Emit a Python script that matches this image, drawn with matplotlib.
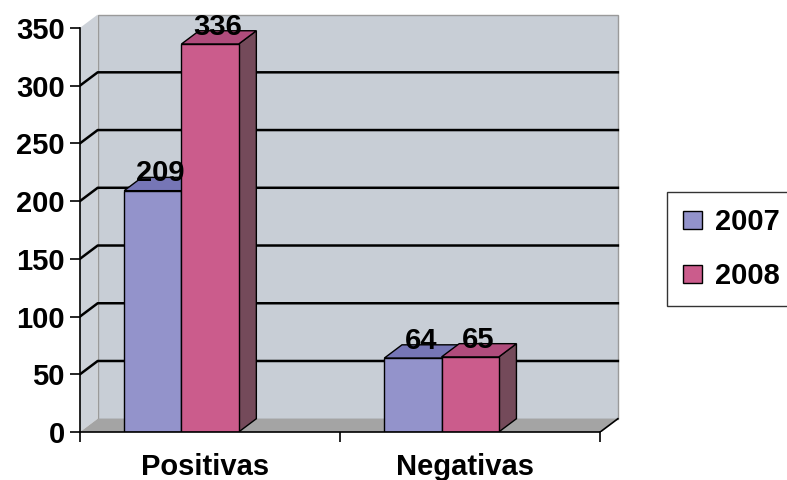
import matplotlib.pyplot as plt
import matplotlib.patches as patches
from matplotlib.patches import Patch

plt.rcParams['font.family'] = ['Liberation Sans', 'DejaVu Sans']
plt.rcParams['font.weight'] = 'bold'

categories = ['Positivas', 'Negativas']
series = ['2007', '2008']
values = [[209, 64],   # 2007
          [336, 65]]   # 2008
yticks = [0, 50, 100, 150, 200, 250, 300, 350]

front = ['#9393CB', '#CB5C8C']
top = ['#7676B6', '#B04C7C']
side = ['#5E5E8E', '#744A5A']

# 3d depth offset (x in category units, y in value units)
dx = 0.068
dy = 11.5
bw = 0.22
start = 0.17
ymax = 350
fs = 21

fig = plt.figure(figsize=(7.87, 4.80), dpi=100)
ax = fig.add_axes([80/787, 48/480, 541/787, 418/480])
ax.set_xlim(0, 2 + dx + 0.012)
ax.set_ylim(0, ymax + dy + 0.5)
for s in ax.spines.values():
    s.set_visible(False)

# walls and floor
ax.add_patch(patches.Polygon([(0, 0), (dx, dy), (dx, ymax + dy), (0, ymax)],
                             facecolor='#CDD2D9', edgecolor='none', zorder=1))
ax.add_patch(patches.Rectangle((dx, dy), 2, ymax, facecolor='#C8CED6',
                               edgecolor='#9A9A9A', lw=1, zorder=1))
ax.add_patch(patches.Polygon([(0, 0), (2, 0), (2 + dx, dy), (dx, dy)],
                             facecolor='#A4A4A4', edgecolor='none', zorder=1))
for v in yticks[1:-1]:
    ax.plot([0, dx, 2 + dx], [v, v + dy, v + dy], color='black', lw=1.8, zorder=2)
ax.plot([2, 2 + dx], [0, dy], color='black', lw=1.2, zorder=2)

# bars
for i in range(len(series)):
    for j in range(len(categories)):
        x = j + start + i * bw
        h = values[i][j]
        ax.add_patch(patches.Polygon([(x + bw, 0), (x + bw + dx, dy), (x + bw + dx, h + dy), (x + bw, h)],
                                     facecolor=side[i], edgecolor='black', lw=1, zorder=3))
        ax.add_patch(patches.Polygon([(x, h), (x + bw, h), (x + bw + dx, h + dy), (x + dx, h + dy)],
                                     facecolor=top[i], edgecolor='black', lw=1, zorder=3))
        ax.add_patch(patches.Rectangle((x, 0), bw, h, facecolor=front[i],
                                       edgecolor='black', lw=1, zorder=3))
        ax.text(x + bw / 2 + 0.03, h + 8, str(h), ha='center', va='baseline',
                fontsize=fs, fontweight='bold', zorder=5)

# front axes
ax.plot([0, 0], [0, ymax], color='black', lw=1.2, zorder=4, clip_on=False)
ax.plot([0, 2], [0, 0], color='black', lw=1.2, zorder=4, clip_on=False)
ax.set_yticks(yticks)
ax.set_yticklabels([str(t) for t in yticks])
ax.tick_params(axis='y', length=7, width=1.2, pad=4, labelsize=fs)
ax.set_xticks([0, 1, 2])
ax.set_xticklabels([])
ax.tick_params(axis='x', length=7, width=1.2)
ax.set_xticks([0.48, 1.48], categories, minor=True)
ax.tick_params(axis='x', which='minor', length=0, pad=15, labelsize=fs)

handles = [Patch(facecolor=front[k], edgecolor='black', label=series[k]) for k in range(2)]
fig.legend(handles=handles, loc='upper left', bbox_to_anchor=(667/787, 1 - 192/480),
           frameon=True, fancybox=False, edgecolor='black', fontsize=fs,
           handlelength=0.65, handleheight=0.6, handletextpad=0.45,
           labelspacing=0.9, borderpad=0.55, borderaxespad=0)

fig.savefig('out.png', dpi=100)
